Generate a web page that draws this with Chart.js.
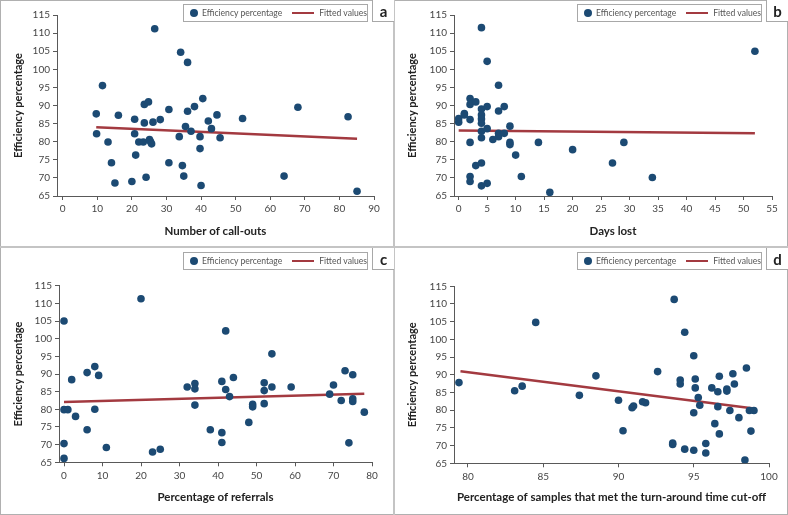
<!DOCTYPE html>
<html>
<head>
<meta charset="utf-8">
<script src="https://cdn.jsdelivr.net/npm/chart.js@4.4.1/dist/chart.umd.min.js"></script>
<style>
  html, body { margin: 0; padding: 0; background: #fff; }
  #wrap { position: relative; width: 788px; height: 515px; overflow: hidden; font-family: Lato, "Open Sans", sans-serif; }
  canvas { position: absolute; }
  .hline, .vline { position: absolute; background: #c4c4c4; }
  .frame { position: absolute; left: 0; top: 0; width: 786px; height: 513px; border: 1px solid #b0b0b0; }
  .legend { position: absolute; height: 18px; border: 1px solid #a8a8a8; background: #fff; box-sizing: border-box;
            font-size: 8.6px; color: #555; display: flex; align-items: center; white-space: nowrap; }
  .legend .dot { display: inline-block; width: 8px; height: 8px; border-radius: 50%; background: #1c4a73; margin: 0 4px 0 6px; }
  .legend .ln { display: inline-block; width: 22px; height: 2px; background: #a33a40; margin: 0 5px 0 10px; }
  .tag { position: absolute; width: 22px; height: 22px; border: 1px solid #a8a8a8; border-top: none; border-right: none; box-sizing: border-box;
         background: #fff; font-weight: bold; font-size: 15px; color: #222; display: flex; align-items: center; justify-content: center; }
</style>
</head>
<body>
<div id="wrap">
  <canvas id="ca" width="394" height="247" style="left:0;top:0"></canvas>
  <canvas id="cb" width="394" height="247" style="left:394px;top:0"></canvas>
  <canvas id="cc" width="394" height="268" style="left:0;top:247px"></canvas>
  <canvas id="cd" width="394" height="268" style="left:394px;top:247px"></canvas>
  <div class="frame"></div>
  <div class="vline" style="left:393px;top:0;width:2px;height:515px"></div>
  <div class="hline" style="left:0;top:246px;width:788px;height:2px"></div>
</div>
<script>
// ---- Data ----
const yTicks = [65, 70, 75, 80, 85, 90, 95, 100, 105, 110, 115];
const legendLabels = ["Efficiency percentage", "Fitted values"];
const panelLetters = ["a", "b", "c", "d"];
const xTitles = ["Number of call-outs", "Days lost", "Percentage of referrals", "Percentage of samples that met the turn-around time cut-off"];
const yTitle = "Efficiency percentage";

// Panel a: number of call-outs
const callOuts = [9.7, 9.8, 11.5, 13.1, 14.1, 15.1, 16.1, 20.0, 20.8, 20.8, 21.1, 22.0, 23.3, 23.6, 23.6, 24.8, 24.1, 25.1, 25.4, 25.7, 26.1, 26.6, 28.2, 30.7, 30.7, 33.7, 34.1, 34.6, 35.0, 35.5, 36.1, 36.1, 37.1, 38.1, 39.7, 39.7, 40.0, 40.5, 42.1, 43.0, 44.6, 45.5, 52.0, 64.0, 68.0, 82.5, 85.1];
const effA = [87.7, 82.2, 95.5, 79.9, 74.2, 68.6, 87.3, 69.0, 86.2, 82.2, 76.3, 79.9, 79.9, 90.3, 85.2, 91.0, 70.2, 80.6, 80.0, 79.4, 85.4, 111.2, 86.1, 88.9, 74.2, 81.4, 104.7, 73.4, 70.5, 84.2, 88.4, 101.9, 82.9, 89.7, 81.4, 78.1, 67.9, 91.9, 85.7, 83.6, 87.4, 81.1, 86.4, 70.5, 89.5, 86.9, 66.3];
const fitAx = [9.7, 85.1];
const fitAy = [84.0, 80.8];

// Panel b: days lost
const daysLost = [0, 0, 1, 1, 2, 2, 2, 2, 2, 2, 3, 3, 4, 4, 4, 4, 4, 4, 4, 4, 4, 5, 5, 5, 5, 6, 7, 7, 7, 7, 8, 8, 9, 9, 9, 10, 11, 14, 16, 20, 27, 29, 34, 52];
const effB = [86.4, 85.4, 87.8, 87.4, 91.9, 90.3, 86.1, 79.8, 70.4, 69.0, 91.0, 73.4, 89.0, 87.4, 86.3, 85.1, 82.9, 81.1, 74.1, 67.8, 111.5, 89.7, 83.6, 68.5, 102.2, 80.6, 95.6, 88.5, 82.3, 81.4, 89.7, 82.3, 84.3, 79.8, 79.2, 76.3, 70.4, 79.8, 66.0, 77.8, 74.1, 79.8, 70.1, 105.0];
const fitBx = [0, 52];
const fitBy = [83.1, 82.3];

// Panel c: percentage of referrals
const referrals = [0, 0, 0, 0, 1, 2, 3, 6, 6, 8, 8, 9, 11, 20, 23, 25, 32, 34, 34, 34, 38, 41, 41, 41, 42, 42, 43, 44, 48, 49, 49, 52, 52, 52, 54, 54, 59, 69, 70, 72, 73, 74, 75, 75, 75, 78];
const effC = [105.0, 79.9, 70.3, 66.1, 79.9, 88.4, 78.0, 90.4, 74.2, 92.1, 80.0, 89.6, 69.2, 111.3, 67.9, 68.7, 86.3, 87.3, 85.8, 81.2, 74.2, 87.9, 73.4, 70.6, 85.6, 102.2, 83.6, 89.0, 76.3, 81.4, 80.7, 87.5, 85.3, 81.6, 95.7, 86.3, 86.3, 84.3, 86.9, 82.5, 90.9, 70.5, 89.8, 83.0, 82.2, 79.2];
const fitCx = [0, 78];
const fitCy = [82.1, 84.4];

// Panel d: percentage of samples meeting TAT cut-off
const tatMet = [79.4, 83.1, 83.6, 84.5, 87.4, 88.5, 90.0, 90.3, 90.9, 91.0, 91.6, 91.8, 92.6, 93.6, 93.6, 93.7, 94.1, 94.1, 94.4, 94.4, 95.0, 95.1, 95.1, 95.0, 95.0, 95.3, 95.4, 95.8, 95.8, 96.2, 96.4, 96.6, 96.6, 96.7, 96.7, 97.2, 97.2, 97.4, 97.6, 97.7, 98.0, 98.4, 98.5, 98.8, 98.7, 99.0];
const effD = [87.8, 85.5, 86.8, 104.8, 84.2, 89.7, 82.8, 74.2, 80.7, 81.2, 82.4, 82.1, 90.9, 70.7, 70.3, 111.3, 88.5, 87.4, 69.0, 102.0, 95.4, 88.8, 86.3, 79.3, 68.7, 83.6, 81.4, 70.6, 67.9, 86.3, 76.2, 85.2, 81.0, 89.6, 73.3, 86.0, 85.4, 79.9, 90.3, 87.4, 77.9, 65.9, 91.9, 74.1, 79.9, 79.9];
const fitDx = [79.5, 99.0];
const fitDy = [91.0, 80.5];

// ---- Layout per panel (positions only) ----
const panels = [
  { id: "ca", xs: callOuts, ys: effA, fx: fitAx, fy: fitAy, xmin: -1.65, xmax: 90, step: 10, left: 57, right: 20, top: 15, xh: 51, tpb: 9, ox: 0, oy: 0 },
  { id: "cb", xs: daysLost, ys: effB, fx: fitBx, fy: fitBy, xmin: -0.82, xmax: 55, step: 5, left: 60, right: 16, top: 15, xh: 51, tpb: 9, ox: 394, oy: 0 },
  { id: "cc", xs: referrals, ys: effC, fx: fitCx, fy: fitCy, xmin: -1.3, xmax: 80, step: 10, left: 59, right: 22, top: 38.7, xh: 52.7, tpb: 11, ox: 0, oy: 247 },
  { id: "cd", xs: tatMet, ys: effD, fx: fitDx, fy: fitDy, xmin: 79.07, xmax: 100, step: 5, left: 60, right: 19, top: 39.3, xh: 51.7, tpb: 11, ox: 394, oy: 247 }
];

const pointColor = "#1c4a73";
const lineColor = "#a33a40";
const axisColor = "#595959";
const tickColor = "#454545";
const FONT = "Lato, 'Open Sans', sans-serif";

panels.forEach((p, i) => {
  const pts = p.xs.map((x, k) => ({ x: x, y: p.ys[k] }));
  const fit = p.fx.map((x, k) => ({ x: x, y: p.fy[k] }));
  new Chart(document.getElementById(p.id), {
    type: "scatter",
    data: {
      datasets: [
        { type: "line", label: legendLabels[1], data: fit, borderColor: lineColor, borderWidth: 2.5, pointRadius: 0, fill: false, order: 2 },
        { label: legendLabels[0], data: pts, backgroundColor: pointColor, borderColor: pointColor, pointRadius: 3.8, borderWidth: 0, order: 1 }
      ]
    },
    options: {
      responsive: false,
      animation: false,
      devicePixelRatio: 1,
      layout: { padding: { left: 0, right: p.right, top: p.top, bottom: 0 } },
      plugins: { legend: { display: false }, tooltip: { enabled: false } },
      scales: {
        x: {
          type: "linear", min: p.xmin, max: p.xmax,
          afterFit: (s) => { s.height = p.xh; },
          ticks: { stepSize: p.step, includeBounds: false, color: tickColor, padding: 3, font: { family: FONT, size: 10 }, maxRotation: 0 },
          grid: { drawOnChartArea: false, drawTicks: true, tickLength: 4, color: axisColor },
          border: { color: axisColor, width: 1 },
          title: { display: true, text: xTitles[i], color: "#222", font: { family: FONT, size: 11.5, weight: "bold" }, padding: { top: 0, bottom: p.tpb } }
        },
        y: {
          type: "linear", min: yTicks[0], max: yTicks[yTicks.length - 1],
          afterFit: (s) => { s.width = p.left; },
          afterBuildTicks: (s) => { s.ticks = yTicks.map(v => ({ value: v })); },
          ticks: { color: tickColor, padding: 3, font: { family: FONT, size: 10 } },
          grid: { drawOnChartArea: false, drawTicks: true, tickLength: 4, color: axisColor },
          border: { color: axisColor, width: 1 },
          title: { display: true, text: yTitle, color: "#222", font: { family: FONT, size: 11, weight: "bold" }, padding: { top: 12, bottom: 0 } }
        }
      }
    }
  });

  // legend box and panel letter
  const wrap = document.getElementById("wrap");
  const lg = document.createElement("div");
  lg.className = "legend";
  lg.style.left = (p.ox + 183) + "px";
  lg.style.top = (p.oy + 4 + (p.oy ? 1 : 0)) + "px";
  lg.style.width = "185px";
  lg.innerHTML = '<span class="dot"></span><span>' + legendLabels[0] + '</span><span class="ln"></span><span>' + legendLabels[1] + '</span>';
  wrap.appendChild(lg);
  const tg = document.createElement("div");
  tg.className = "tag";
  tg.style.left = (p.ox + 372) + "px";
  tg.style.top = (p.oy + (p.oy ? 1 : 0)) + "px";
  tg.textContent = panelLetters[i];
  wrap.appendChild(tg);
});
</script>
</body>
</html>
